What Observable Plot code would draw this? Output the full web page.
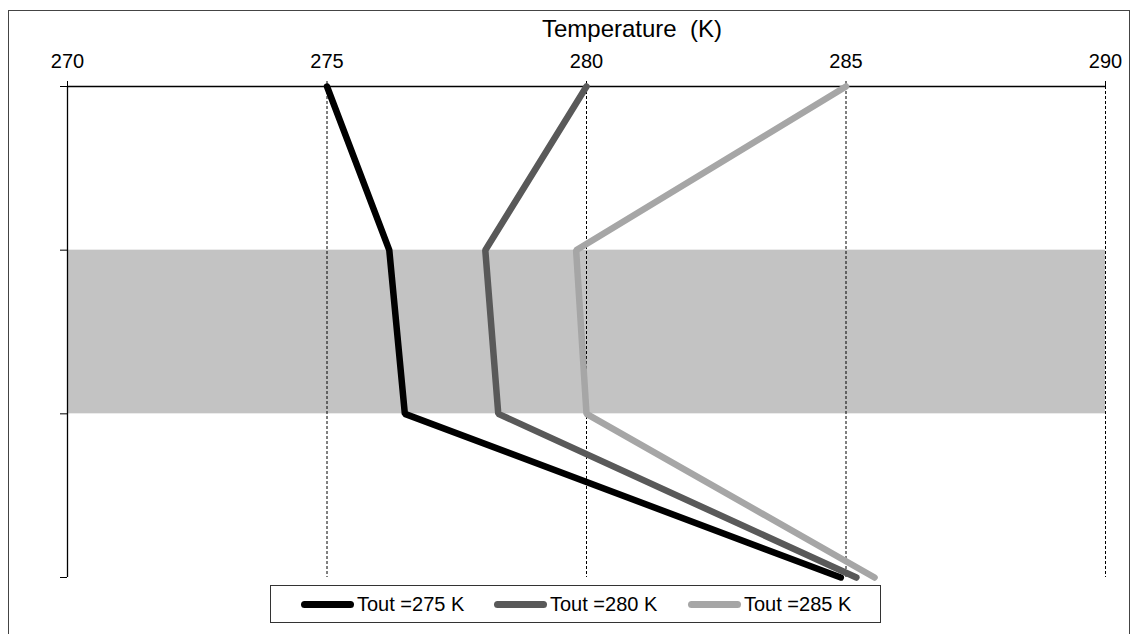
<!DOCTYPE html>
<html>
<head>
<meta charset="utf-8">
<script src="https://cdn.jsdelivr.net/npm/d3@7"></script>
<script src="https://cdn.jsdelivr.net/npm/@observablehq/plot@0.6"></script>
<style>
  body { margin: 0; background: #fff; font-family: "Liberation Sans", Arial, sans-serif; }
  #wrap { position: relative; width: 1133px; height: 634px; overflow: hidden; }
  #frame { position: absolute; left: 8px; top: 10px; width: 1122px; height: 700px; border: 1.5px solid #444; box-sizing: border-box; }
  #title { position: absolute; left: 0; width: 1264px; top: 15px; text-align: center; font-size: 24px; color: #000; white-space: pre; }
  #legend { position: absolute; left: 270px; top: 585px; width: 611px; height: 38px; box-sizing: border-box;
            border: 1.5px solid #333; background: #fff; font-size: 20px; color: #000; }
  .item { display: flex; align-items: center; position: absolute; top: 5px; height: 26px; }
  .sw { width: 53px; height: 7px; border-radius: 3.5px; margin-right: 3px; }
  #chart { position: absolute; left: 0; top: 0; }
</style>
</head>
<body>
<div id="wrap">
  <div id="frame"></div>
  <div id="chart"></div>
  <div id="title">Temperature  (K)</div>
  <div id="legend"></div>
</div>
<script>
// Data
const xTicks = [270, 275, 280, 285, 290];
const layers = [0, 1, 2, 3];
const bandLayers = [1, 2];
const seriesNames = ["Tout =275 K", "Tout =280 K", "Tout =285 K"];
const seriesColors = ["#000000", "#595959", "#a6a6a6"];
const tout275 = [275.0, 276.2, 276.5, 284.9];
const tout280 = [280.0, 278.05, 278.3, 285.2];
const tout285 = [285.0, 279.8, 280.0, 285.55];
const allSeries = [tout275, tout280, tout285];

const rows = [];
allSeries.forEach((s, i) => s.forEach((t, j) => rows.push({series: seriesNames[i], layer: layers[j], temp: t})));

const W = 1133, H = 634;
const chart = Plot.plot({
  width: W, height: H,
  marginLeft: 67, marginRight: 28, marginTop: 86, marginBottom: 57,
  style: {fontFamily: '"Liberation Sans", Arial, sans-serif', fontSize: "20px", color: "#000", background: "transparent"},
  x: {domain: [270, 290]},
  y: {domain: [0, 3], reverse: true},
  color: {domain: seriesNames, range: seriesColors},
  marks: [
    Plot.rect([{y1: bandLayers[0], y2: bandLayers[1]}], {x1: xTicks[0], x2: xTicks[xTicks.length - 1], y1: "y1", y2: "y2", fill: "#c3c3c3"}),
    Plot.ruleX(xTicks.slice(1), {y1: layers[0], y2: layers[layers.length - 1], stroke: "#000", strokeWidth: 1, strokeDasharray: "3,2"}),
    Plot.ruleX([xTicks[0]], {y1: layers[0], y2: layers[layers.length - 1], stroke: "#000", strokeWidth: 1.3}),
    Plot.ruleY([layers[0]], {x1: xTicks[0], x2: xTicks[xTicks.length - 1], stroke: "#000", strokeWidth: 1.3}),
    Plot.axisX({anchor: "top", ticks: xTicks, tickFormat: d => String(d), tickSize: 6, tickPadding: 13, label: null, fontSize: 20}),
    Plot.axisY({anchor: "left", ticks: layers, tickFormat: () => "", tickSize: 7, label: null}),
    Plot.line(rows, {x: "temp", y: "layer", z: "series", stroke: "series", strokeWidth: 6.5, strokeLinecap: "round", strokeLinejoin: "miter"})
  ]
});
document.getElementById("chart").appendChild(chart);

// Legend
const legend = document.getElementById("legend");
const lefts = [30, 223, 417];
seriesNames.forEach((name, i) => {
  const it = document.createElement("div");
  it.className = "item";
  it.style.left = lefts[i] + "px";
  const sw = document.createElement("div");
  sw.className = "sw";
  sw.style.background = seriesColors[i];
  const tx = document.createElement("span");
  tx.textContent = name;
  it.appendChild(sw); it.appendChild(tx);
  legend.appendChild(it);
});
</script>
</body>
</html>
